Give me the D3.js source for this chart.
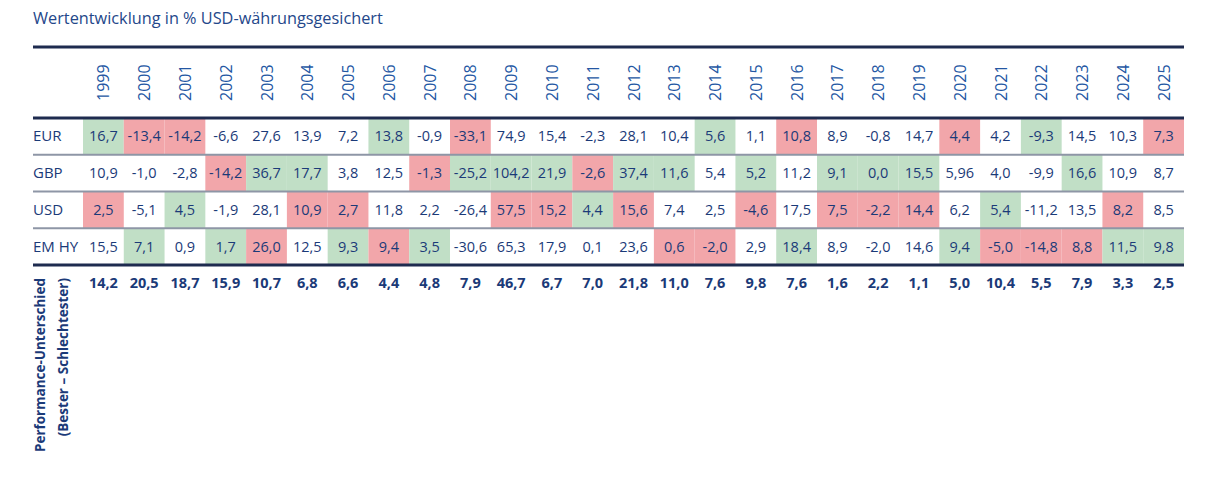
<!DOCTYPE html>
<meta charset="utf-8">
<script src="https://d3js.org/d3.v7.min.js"></script>
<style>
  body { margin: 0; background: #fff; }
  text { font-family: "Open Sans", sans-serif; }
</style>
<div id="chart"></div>
<script>
  // table data
  const years = ["1999", "2000", "2001", "2002", "2003", "2004", "2005", "2006", "2007", "2008", "2009", "2010", "2011", "2012", "2013", "2014", "2015", "2016", "2017", "2018", "2019", "2020", "2021", "2022", "2023", "2024", "2025"];
  const rows = ["EUR", "GBP", "USD", "EM HY"];

  const eur = [16.7, -13.4, -14.2, -6.6, 27.6, 13.9, 7.2, 13.8, -0.9, -33.1, 74.9, 15.4, -2.3, 28.1, 10.4, 5.6, 1.1, 10.8, 8.9, -0.8, 14.7, 4.4, 4.2, -9.3, 14.5, 10.3, 7.3];
  const gbp = [10.9, -1.0, -2.8, -14.2, 36.7, 17.7, 3.8, 12.5, -1.3, -25.2, 104.2, 21.9, -2.6, 37.4, 11.6, 5.4, 5.2, 11.2, 9.1, 0.0, 15.5, 5.96, 4.0, -9.9, 16.6, 10.9, 8.7];
  const usd = [2.5, -5.1, 4.5, -1.9, 28.1, 10.9, 2.7, 11.8, 2.2, -26.4, 57.5, 15.2, 4.4, 15.6, 7.4, 2.5, -4.6, 17.5, 7.5, -2.2, 14.4, 6.2, 5.4, -11.2, 13.5, 8.2, 8.5];
  const emhy = [15.5, 7.1, 0.9, 1.7, 26.0, 12.5, 9.3, 9.4, 3.5, -30.6, 65.3, 17.9, 0.1, 23.6, 0.6, -2.0, 2.9, 18.4, 8.9, -2.0, 14.6, 9.4, -5.0, -14.8, 8.8, 11.5, 9.8];
  const spread = [14.2, 20.5, 18.7, 15.9, 10.7, 6.8, 6.6, 4.4, 4.8, 7.9, 46.7, 6.7, 7.0, 21.8, 11.0, 7.6, 9.8, 7.6, 1.6, 2.2, 1.1, 5.0, 10.4, 5.5, 7.9, 3.3, 2.5];

  // which row is shaded green / red in each year
  const greenRow = ["EUR", "EM HY", "USD", "EM HY", "GBP", "GBP", "EM HY", "EUR", "EM HY", "GBP", "GBP", "GBP", "USD", "GBP", "GBP", "EUR", "GBP", "EM HY", "GBP", "GBP", "GBP", "EM HY", "USD", "EUR", "GBP", "EM HY", "EM HY"];
  const redRow = ["USD", "EUR", "EUR", "GBP", "EM HY", "USD", "USD", "EM HY", "GBP", "EUR", "USD", "USD", "GBP", "USD", "EM HY", "EM HY", "USD", "EUR", "USD", "USD", "USD", "EUR", "EM HY", "EM HY", "EM HY", "USD", "EUR"];

  const title = "Wertentwicklung in % USD-währungsgesichert";
  const spreadLabel = ["Performance-Unterschied", "(Bester – Schlechtester)"];

  const width = 1215, height = 483;
  const navy = "#1e2b4f", textBlue = "#1b3a78", yearBlue = "#2457a3";
  const green = "#c1dfc6", red = "#f2a6aa";

  const series = { "EUR": eur, "GBP": gbp, "USD": usd, "EM HY": emhy };

  const fmt = v => (Math.round(v * 10) === v * 10 ? v.toFixed(1) : v.toFixed(2)).replace(".", ",");

  const svg = d3.select("#chart").append("svg")
    .attr("width", width)
    .attr("height", height);

  const x = d3.scaleBand().domain(years).range([83, 1184]);
  const y = d3.scaleBand().domain(rows).range([118, 265]);
  const left = 33;

  svg.append("text")
    .attr("x", left)
    .attr("y", 24)
    .attr("fill", "#24478a")
    .style("font-size", "16.3px")
    .text(title);

  // shaded cells
  const cells = [];
  years.forEach((yr, i) => {
    rows.forEach(r => {
      cells.push({ year: yr, row: r, value: series[r][i], fill: greenRow[i] === r ? green : (redRow[i] === r ? red : null) });
    });
  });

  svg.selectAll("rect.cell")
    .data(cells.filter(d => d.fill))
    .join("rect")
    .attr("class", "cell")
    .attr("x", d => x(d.year))
    .attr("y", d => y(d.row))
    .attr("width", x.bandwidth())
    .attr("height", y.bandwidth())
    .attr("fill", d => d.fill);

  // row separators
  svg.selectAll("line.sep")
    .data(rows.slice(1))
    .join("line")
    .attr("class", "sep")
    .attr("x1", left).attr("x2", x.range()[1])
    .attr("y1", d => y(d)).attr("y2", d => y(d))
    .attr("stroke", "#8e96a6")
    .attr("stroke-width", 2);

  // heavy rules
  [47, y.range()[0], y.range()[1]].forEach(py => {
    svg.append("line")
      .attr("x1", left).attr("x2", x.range()[1])
      .attr("y1", py).attr("y2", py)
      .attr("stroke", navy)
      .attr("stroke-width", 3);
  });

  // year header
  svg.selectAll("text.year")
    .data(years)
    .join("text")
    .attr("class", "year")
    .attr("transform", d => `translate(${x(d) + x.bandwidth() / 2 + 6}, 101) rotate(-90)`)
    .attr("fill", yearBlue)
    .style("font-size", "16px")
    .text(d => d);

  // row labels
  svg.selectAll("text.rowlab")
    .data(rows)
    .join("text")
    .attr("class", "rowlab")
    .attr("x", left)
    .attr("y", d => y(d) + y.bandwidth() / 2 + 5)
    .attr("fill", textBlue)
    .style("font-size", "15px")
    .text(d => d);

  // values
  svg.selectAll("text.val")
    .data(cells)
    .join("text")
    .attr("class", "val")
    .attr("x", d => x(d.year) + x.bandwidth() / 2)
    .attr("y", d => y(d.row) + y.bandwidth() / 2 + 5)
    .attr("text-anchor", "middle")
    .attr("fill", textBlue)
    .style("font-size", "14.5px")
    .text(d => fmt(d.value));

  // spread row
  svg.selectAll("text.spread")
    .data(spread)
    .join("text")
    .attr("class", "spread")
    .attr("x", (d, i) => x(years[i]) + x.bandwidth() / 2)
    .attr("y", 288)
    .attr("text-anchor", "middle")
    .attr("fill", textBlue)
    .style("font-size", "14.5px")
    .style("font-weight", 700)
    .text(d => fmt(d));

  svg.selectAll("text.spreadlab")
    .data(spreadLabel)
    .join("text")
    .attr("class", "spreadlab")
    .attr("transform", (d, i) => `translate(${45 + i * 23}, 278) rotate(-90)`)
    .attr("text-anchor", "end")
    .attr("fill", textBlue)
    .style("font-size", "13.5px")
    .style("font-weight", 700)
    .text(d => d);
</script>
